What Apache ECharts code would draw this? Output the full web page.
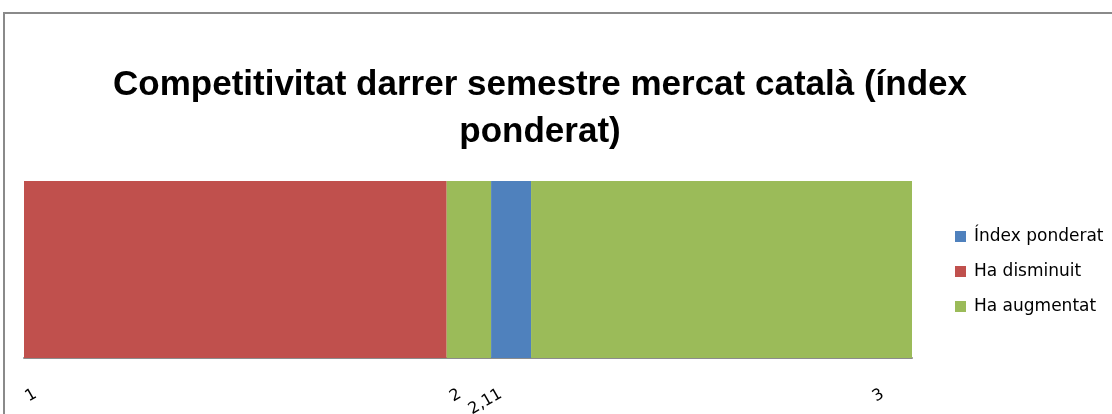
<!DOCTYPE html>
<html>
<head>
<meta charset="utf-8">
<script src="https://cdn.jsdelivr.net/npm/echarts@6/dist/echarts.min.js"></script>
<style>
  html, body { margin: 0; padding: 0; background: #fff; }
  #chart { width: 1112px; height: 414px; }
</style>
</head>
<body>
<div id="chart"></div>
<script>
// segments of the bar, in % of the plot width (left to right)
const categories = ['Competitivitat'];
const disminuit = [47.6];
const augmentatA = [5.0];
const index = [4.5];
const augmentatB = [42.9];
// tick labels and where they sit on the same % scale
const tickLabels = ['1', '2', '2,11', '3'];
const tickPos = [1.3, 49.1, 53.7, 96.7];

const chart = echarts.init(document.getElementById('chart'));

chart.setOption({
  animation: false,
  backgroundColor: '#fff',
  title: {
    text: 'Competitivitat darrer semestre mercat català (índex\nponderat)',
    left: 535,
    top: 57,
    textAlign: 'center',
    textStyle: {
      fontFamily: 'Liberation Sans',
      fontWeight: 'bold',
      fontSize: 35,
      lineHeight: 47,
      color: '#000'
    }
  },
  legend: {
    orient: 'vertical',
    left: 950,
    top: 223,
    itemWidth: 11,
    itemHeight: 11,
    itemGap: 18,
    icon: 'rect',
    data: ['Índex ponderat', 'Ha disminuit', 'Ha augmentat'],
    textStyle: { fontFamily: 'DejaVu Sans', fontSize: 17, color: '#000', padding: [0, 0, 0, 3] }
  },
  grid: { left: 24, right: 200, top: 181, bottom: 56, outerBoundsMode: 'none' },
  xAxis: {
    type: 'value',
    min: 0,
    max: 100,
    splitLine: { show: false },
    axisTick: { show: false },
    axisLine: { show: true, lineStyle: { color: '#8c8c8c', width: 2 } },
    axisLabel: {
      customValues: tickPos,
      rotate: 30,
      margin: 35,
      fontFamily: 'DejaVu Sans',
      fontSize: 16,
      color: '#000',
      formatter: function (v) {
        const i = tickPos.indexOf(v);
        return i >= 0 ? tickLabels[i] : '';
      }
    }
  },
  yAxis: {
    type: 'category',
    data: categories,
    show: false
  },
  series: [
    { name: 'Ha disminuit', type: 'bar', stack: 'a', data: disminuit, barCategoryGap: 0, itemStyle: { color: '#C0504D' } },
    { name: 'Ha augmentat', type: 'bar', stack: 'a', data: augmentatA, itemStyle: { color: '#9BBB59' } },
    { name: 'Índex ponderat', type: 'bar', stack: 'a', data: index, itemStyle: { color: '#4F81BD' } },
    { name: 'Ha augmentat', type: 'bar', stack: 'a', data: augmentatB, itemStyle: { color: '#9BBB59' } }
  ],
  graphic: [{
    type: 'rect',
    shape: { x: 4, y: 13, width: 1200, height: 500 },
    style: { fill: 'none', stroke: '#8a8a8a', lineWidth: 2 },
    silent: true,
    z: -1
  }]
});
</script>
</body>
</html>
